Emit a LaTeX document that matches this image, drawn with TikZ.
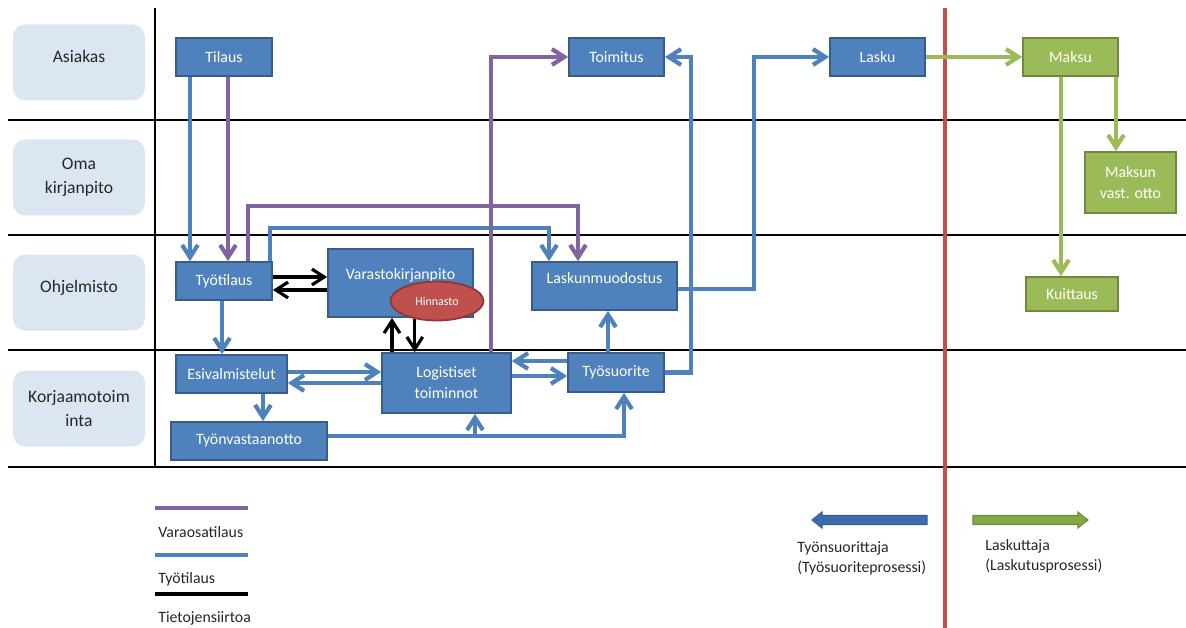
\documentclass[tikz,border=0pt]{standalone}
\usepackage{fontspec}
\setmainfont{Carlito}
\usetikzlibrary{arrows.meta,shapes.geometric}
\definecolor{boxBlue}{HTML}{4F81BD}
\definecolor{boxEdge}{HTML}{385D8A}
\definecolor{boxGreen}{HTML}{9BBB59}
\definecolor{greenEdge}{HTML}{71893F}
\definecolor{penRed}{HTML}{C0504D}
\definecolor{redEdge}{HTML}{8C3836}
\definecolor{penPurple}{HTML}{8064A2}
\definecolor{laneFill}{HTML}{DCE6F2}
\definecolor{legBlue}{HTML}{3C6BB0}
\definecolor{legGreen}{HTML}{80A844}
\tikzset{
  sz/.style 2 args={minimum width=#1*0.02cm, minimum height=#2*0.02cm},
  box/.style={draw=boxEdge, line width=1pt, fill=boxBlue, text=white, inner sep=0pt, align=center, font=\fontsize{9}{12}\selectfont},
  gbox/.style={box, draw=greenEdge, fill=boxGreen},
  lane/.style={fill=laneFill, rounded corners=7pt, sz={132}{76}, align=center, text=black!85, font=\fontsize{10}{13.6}\selectfont, inner sep=0pt},
  flowtip/.style={-{Straight Barb[length=7pt,width=9pt]}},
  bflow/.style={flowtip, boxBlue, line width=2.4pt},
  pflow/.style={flowtip, penPurple, line width=2.4pt},
  gflow/.style={flowtip, boxGreen, line width=2.4pt},
  kflow/.style={flowtip, black, line width=1.8pt},
  legtext/.style={anchor=west, inner sep=0pt, align=left, text=black!85, font=\fontsize{9}{11.3}\selectfont},
}
\begin{document}
\begin{tikzpicture}[x=0.02cm, y=-0.02cm]
\useasboundingbox (0,0) rectangle (1186,628);
\foreach \yy in {120,235,350,467} \draw[line width=0.7pt] (8,\yy) -- (1186,\yy);
\draw[line width=0.7pt] (155,8) -- (155,467);
\draw[penRed, line width=2.6pt] (945,8) -- (945,628);

\node[lane, text depth=7pt] (asiakas) at (79,62.5) {Asiakas};
\node[lane] (oma) at (79,177.5) {Oma\\kirjanpito};
\node[lane, text depth=7pt] (ohjelmisto) at (79,292.5) {Ohjelmisto};
\node[lane] (korjaamo) at (79,408.5) {Korjaamotoim\\inta};

\node[box, sz={96}{38}] (tilaus) at (224,57) {Tilaus};
\node[box, sz={95}{38}] (toimitus) at (616.5,57) {Toimitus};
\node[box, sz={95}{38}] (lasku) at (877.5,57) {Lasku};
\node[gbox, sz={95}{38}] (maksu) at (1070.5,57) {Maksu};
\node[gbox, sz={91}{61}] (maksun) at (1130.5,182.5) {Maksun\\vast. otto};
\node[gbox, sz={92}{34}] (kuittaus) at (1072,294) {Kuittaus};
\node[box, sz={96}{38}] (tyotilaus) at (224,281) {Työtilaus};
\node[box, sz={145}{68}, text depth=10pt] (varasto) at (400.5,283) {Varastokirjanpito};
\node[ellipse, draw=redEdge, line width=1pt, fill=penRed, text=white, minimum width=93*0.02cm, minimum height=39*0.02cm, inner sep=0pt, font=\fontsize{6.8}{8}\selectfont] (hinnasto) at (437,301) {Hinnasto};
\node[box, sz={145}{48}, text depth=9pt] (laskun) at (604.5,286) {Laskunmuodostus};
\node[box, sz={111}{38}] (esival) at (231.5,374) {Esivalmistelut};
\node[box, sz={129}{60}] (logistiset) at (446.5,383) {Logistiset\\toiminnot};
\node[box, sz={96}{39}] (tyosuorite) at (616,372.5) {Työsuorite};
\node[box, sz={156}{38}] (tyonvast) at (249,441) {Työnvastaanotto};

\draw[bflow] (tilaus.south -| 190,0) -- (tyotilaus.north -| 190,0);
\draw[pflow] (tilaus.south -| 228,0) -- (tyotilaus.north -| 228,0);
\draw[pflow] (tyotilaus.north -| 248,0) -- (248,206) -| (laskun.north -| 578,0);
\draw[bflow] (tyotilaus.north -| 270,0) -- (270,228) -| (laskun.north -| 549,0);
\draw[pflow] (logistiset.north -| 491,0) |- (toimitus.west);
\draw[bflow] (tyosuorite.east) -| (691,0 |- toimitus.east) -- (toimitus.east);
\draw[bflow] (laskun.east |- 0,289) -| (754,0 |- lasku.west) -- (lasku.west);
\draw[gflow] (lasku.east) -- (maksu.west);
\draw[gflow] (maksu.south -| 1116,0) -- (maksun.north -| 1116,0);
\draw[gflow] (maksu.south -| 1061,0) -- (kuittaus.north -| 1061,0);
\draw[kflow] (tyotilaus.east |- 0,277) -- (varasto.west |- 0,277);
\draw[kflow] (varasto.west |- 0,290) -- (tyotilaus.east |- 0,290);
\draw[kflow] (logistiset.north -| 392,0) -- (varasto.south -| 392,0);
\draw[kflow] (hinnasto.219) -- (logistiset.north -| hinnasto.219);
\draw[bflow] (tyotilaus.south -| 222,0) -- (esival.north -| 222,0);
\draw[bflow] (esival.east |- 0,372) -- (logistiset.west |- 0,372);
\draw[bflow] (logistiset.west |- 0,383) -- (esival.east |- 0,383);
\draw[bflow] (esival.south -| 263,0) -- (tyonvast.north -| 263,0);
\draw[bflow] (tyonvast.east |- 0,436) -| (tyosuorite.south -| 624,0);
\coordinate (fork) at (475,436);
\draw[bflow] (fork) -- (logistiset.south -| fork);
\draw[bflow] (tyosuorite.west |- 0,361) -- (logistiset.east |- 0,361);
\draw[bflow] (logistiset.east |- 0,376) -- (tyosuorite.west |- 0,376);
\draw[bflow] (tyosuorite.north -| 608,0) -- (laskun.south -| 608,0);

\draw[penPurple, line width=2.3pt] (155,508) -- (248,508);
\node[legtext] (legvara) at (158,532) {Varaosatilaus};
\draw[boxBlue, line width=2.3pt] (155,555) -- (248,555);
\node[legtext] (legtyo) at (158,579) {Työtilaus};
\draw[black, line width=2.3pt] (155,594) -- (248,594);
\node[legtext] (legtieto) at (158,618) {Tietojensiirtoa};

\filldraw[fill=legBlue, draw=boxEdge, line width=0.6pt] (927,515.5) -- (822,515.5) -- (822,512) -- (812,520) -- (822,528) -- (822,524.5) -- (927,524.5) -- cycle;
\filldraw[fill=legGreen, draw=greenEdge, line width=0.6pt] (973,515.5) -- (1078,515.5) -- (1078,512) -- (1088,520) -- (1078,528) -- (1078,524.5) -- (973,524.5) -- cycle;
\node[legtext] (tyonsuor) at (797,558) {Työnsuorittaja\\(Työsuoriteprosessi)};
\node[legtext] (laskuttaja) at (985,556) {Laskuttaja\\(Laskutusprosessi)};
\end{tikzpicture}
\end{document}
